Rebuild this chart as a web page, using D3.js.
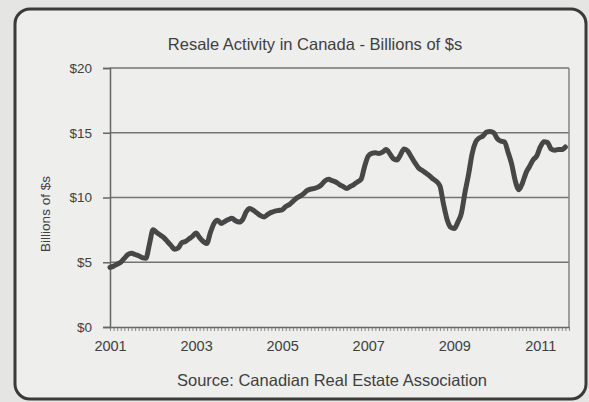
<!DOCTYPE html>
<html>
<head>
<meta charset="utf-8">
<script src="https://cdn.jsdelivr.net/npm/d3@7"></script>
<style>
  html, body { margin: 0; padding: 0; background: #e5e5e3; }
  svg { display: block; }
  text { font-family: "Liberation Sans", Arial, sans-serif; fill: #404040; }
</style>
</head>
<body>
<svg id="chart" width="589" height="402"></svg>
<script>
// Monthly resale volume, January 2001 onward (billions of dollars)
const resale2001 = [4.6, 4.7, 4.85, 5.0, 5.3, 5.6, 5.7, 5.6, 5.5, 5.35, 5.3, 6.4];
const resale2002 = [7.5, 7.3, 7.1, 6.9, 6.6, 6.3, 6.0, 6.1, 6.5, 6.6, 6.8, 7.0];
const resale2003 = [7.25, 6.9, 6.6, 6.45, 7.3, 8.0, 8.25, 8.0, 8.15, 8.3, 8.4, 8.2];
const resale2004 = [8.1, 8.3, 8.9, 9.15, 9.0, 8.8, 8.6, 8.5, 8.7, 8.85, 8.95, 9.0];
const resale2005 = [9.05, 9.3, 9.45, 9.7, 9.95, 10.1, 10.3, 10.55, 10.65, 10.7, 10.8, 11.0];
const resale2006 = [11.3, 11.4, 11.3, 11.2, 11.0, 10.85, 10.7, 10.85, 11.0, 11.2, 11.4, 12.4];
const resale2007 = [13.2, 13.4, 13.45, 13.4, 13.5, 13.7, 13.4, 13.0, 12.9, 13.3, 13.75, 13.6];
const resale2008 = [13.15, 12.7, 12.3, 12.1, 11.9, 11.7, 11.45, 11.25, 10.9, 9.5, 8.3, 7.7];
const resale2009 = [7.6, 8.1, 8.8, 10.4, 11.8, 13.4, 14.3, 14.6, 14.75, 15.05, 15.1, 15.0];
const resale2010 = [14.55, 14.35, 14.3, 13.5, 12.6, 11.3, 10.6, 11.1, 11.9, 12.4, 12.9, 13.2];
const resale2011 = [13.9, 14.3, 14.25, 13.75, 13.65, 13.7, 13.7, 13.9];

const yearLabels = ["2001", "2003", "2005", "2007", "2009", "2011"];
const yTicks = [0, 5, 10, 15, 20];

const values = [].concat(resale2001, resale2002, resale2003, resale2004, resale2005,
  resale2006, resale2007, resale2008, resale2009, resale2010, resale2011);

const svg = d3.select("#chart");

// Rounded frame around the chart
svg.append("rect")
  .attr("x", 15).attr("y", 9)
  .attr("width", 571).attr("height", 390)
  .attr("rx", 15).attr("ry", 15)
  .attr("fill", "#eeeeec")
  .attr("stroke", "#3a3a3a")
  .attr("stroke-width", 3);

const plot = { left: 110, right: 569, top: 68, bottom: 327 };

const x = d3.scaleLinear().domain([0, 128]).range([plot.left, plot.right]);
const y = d3.scaleLinear().domain([0, 20]).range([plot.bottom, plot.top]);

// Horizontal gridlines
svg.append("g")
  .selectAll("line")
  .data(yTicks.filter(d => d > 0))
  .join("line")
  .attr("x1", plot.left).attr("x2", plot.right)
  .attr("y1", d => y(d)).attr("y2", d => y(d))
  .attr("stroke", "#747474")
  .attr("stroke-width", 1.5);

// Right edge of the plot area
svg.append("line")
  .attr("x1", plot.right).attr("x2", plot.right)
  .attr("y1", plot.top).attr("y2", plot.bottom)
  .attr("stroke", "#848484")
  .attr("stroke-width", 1.5);

// Y axis
const yAxis = svg.append("g")
  .attr("transform", `translate(${plot.left},0)`)
  .call(d3.axisLeft(y).tickValues(yTicks).tickSize(7).tickPadding(11)
    .tickFormat(d => "$" + d));
yAxis.selectAll("line, path").attr("stroke", "#666").attr("stroke-width", 1.5);
yAxis.selectAll("text").attr("font-size", 13.5).attr("fill", "#404040")
  .style("font-family", "'Liberation Sans', Arial, sans-serif");

// X axis: one small tick per month
const xAxis = svg.append("g")
  .attr("transform", `translate(0,${plot.bottom})`)
  .call(d3.axisBottom(x).tickValues(d3.range(0, 129)).tickSize(4).tickSizeOuter(0)
    .tickFormat(""));
xAxis.selectAll("line").attr("stroke", "#707070").attr("stroke-width", 0.8);
xAxis.select("path").attr("stroke", "#666").attr("stroke-width", 1.5);

// Year labels every 24 months
const xLabels = svg.append("g")
  .attr("transform", `translate(0,${plot.bottom})`)
  .call(d3.axisBottom(x).tickValues(yearLabels.map((_, i) => i * 24)).tickSize(0)
    .tickPadding(14).tickFormat((d, i) => yearLabels[i]));
xLabels.select("path").remove();
xLabels.selectAll("text").attr("font-size", 14.5).attr("fill", "#404040")
  .style("font-family", "'Liberation Sans', Arial, sans-serif");

// Resale activity line
const line = d3.line()
  .x((d, i) => x(i))
  .y(d => y(d))
  .curve(d3.curveMonotoneX);

svg.append("path")
  .datum(values)
  .attr("d", line)
  .attr("fill", "none")
  .attr("stroke", "#474747")
  .attr("stroke-width", 5)
  .attr("stroke-linejoin", "round")
  .attr("stroke-linecap", "round");

// Titles
svg.append("text")
  .attr("x", 315).attr("y", 50)
  .attr("text-anchor", "middle")
  .attr("font-size", 16.5)
  .text("Resale Activity in Canada  - Billions of $s");

svg.append("text")
  .attr("transform", "translate(50,214) rotate(-90)")
  .attr("text-anchor", "middle")
  .attr("font-size", 13.5)
  .text("Billions of $s");

svg.append("text")
  .attr("x", 332).attr("y", 386)
  .attr("text-anchor", "middle")
  .attr("font-size", 16.5)
  .text("Source: Canadian Real  Estate Association");
</script>
</body>
</html>
